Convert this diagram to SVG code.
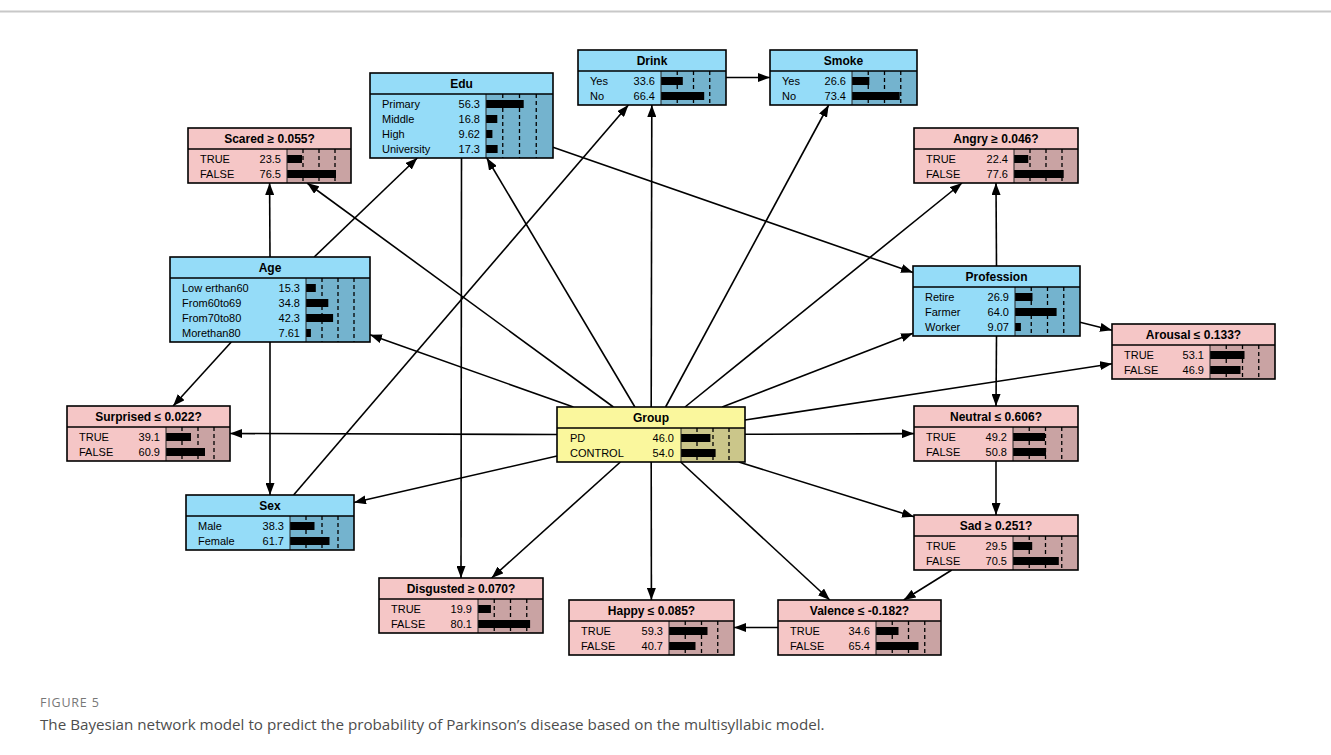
<svg xmlns="http://www.w3.org/2000/svg" width="1331" height="755" viewBox="0 0 1331 755">
  <defs>
    <marker id="arrow" markerUnits="userSpaceOnUse" markerWidth="12" markerHeight="9" refX="12" refY="4.5" orient="auto">
      <path d="M0,0 L12,4.5 L0,9 Z" fill="#000"/>
    </marker>
  </defs>
  <style>
    .lt { stroke: none; }
    .blue .lt { fill: #95dcf8; }
    .blue .dk { fill: #74b3ce; }
    .pink .lt { fill: #f5c6c6; }
    .pink .dk { fill: #c9a3a3; }
    .yellow .lt { fill: #faf79d; }
    .yellow .dk { fill: #cbc68a; }
    .frame { fill: none; stroke: #000; stroke-width: 1.6; }
    .sep { stroke: #000; stroke-width: 1.4; }
    .div { stroke: #222; stroke-width: 1; }
    .grid { stroke: #000; stroke-width: 1.3; stroke-dasharray: 4 3; }
    .bar { fill: #000; }
    .title { font-family: "Liberation Sans", Arial, sans-serif; font-size: 12px; font-weight: bold; text-anchor: middle; fill: #000; }
    .lab { font-family: "Liberation Sans", Arial, sans-serif; font-size: 11px; fill: #000; }
    .val { font-family: "Liberation Sans", Arial, sans-serif; font-size: 11px; fill: #000; text-anchor: end; }
    #connectors line { stroke: #000; stroke-width: 1.6; marker-end: url(#arrow); }
    .figlabel { font-family: "Open Sans", "Noto Sans", sans-serif; font-size: 12.5px; fill: #777; letter-spacing: 0.8px; }
    .caption { font-family: "Open Sans", "Noto Sans", sans-serif; font-size: 15.2px; fill: #4d4d4d; }
  </style>

  <rect width="1331" height="755" fill="#fff"/>
  <line x1="0" y1="11.5" x2="1331" y2="11.5" stroke="#c8c8c8" stroke-width="2"/>

  <!-- links between nodes -->
  <g id="connectors">
    <line x1="651.2" y1="407" x2="651.8" y2="105"/>
    <line x1="665.6" y1="407" x2="828.7" y2="105"/>
    <line x1="634.9" y1="407" x2="486.8" y2="158"/>
    <line x1="613.4" y1="407" x2="307.1" y2="183"/>
    <line x1="573.4" y1="407" x2="370" y2="334.8"/>
    <line x1="557" y1="434.5" x2="230" y2="433.5"/>
    <line x1="557" y1="456" x2="354" y2="502.5"/>
    <line x1="620.4" y1="462" x2="491.6" y2="578"/>
    <line x1="651.2" y1="462" x2="651.4" y2="600"/>
    <line x1="680.7" y1="462" x2="829.8" y2="600"/>
    <line x1="738.8" y1="462" x2="914" y2="516.8"/>
    <line x1="745" y1="434.3" x2="914" y2="433.6"/>
    <line x1="745" y1="420" x2="1112" y2="363.8"/>
    <line x1="722.2" y1="407" x2="913" y2="333.3"/>
    <line x1="685" y1="407" x2="962" y2="183"/>
    <line x1="726" y1="77.5" x2="770" y2="77.5"/>
    <line x1="270" y1="257" x2="269.6" y2="183"/>
    <line x1="314.2" y1="257" x2="417.3" y2="158"/>
    <line x1="231.3" y1="342" x2="173.1" y2="406"/>
    <line x1="270" y1="342" x2="270" y2="495"/>
    <line x1="293.6" y1="495" x2="628.4" y2="105"/>
    <line x1="461.5" y1="158" x2="461" y2="578"/>
    <line x1="553" y1="147.3" x2="913" y2="272.4"/>
    <line x1="996.5" y1="266" x2="996" y2="183"/>
    <line x1="1080" y1="322.2" x2="1112" y2="330.2"/>
    <line x1="996.5" y1="336" x2="996" y2="406"/>
    <line x1="996" y1="461" x2="996" y2="515"/>
    <line x1="951.8" y1="570" x2="903.7" y2="600"/>
    <line x1="778" y1="627.5" x2="734" y2="627.5"/>
  </g>

  <!-- Edu -->
  <g id="node-edu" class="blue">
    <rect class="lt" x="370" y="73" width="183" height="85"/>
    <rect class="dk" x="486" y="94" width="67" height="64"/>
    <line class="grid" x1="502.75" y1="94" x2="502.75" y2="158"/>
    <line class="grid" x1="519.5" y1="94" x2="519.5" y2="158"/>
    <line class="grid" x1="536.25" y1="94" x2="536.25" y2="158"/>
    <rect class="bar" x="486" y="100" width="37.7" height="8"/>
    <rect class="bar" x="486" y="115" width="11.3" height="8"/>
    <rect class="bar" x="486" y="130" width="6.4" height="8"/>
    <rect class="bar" x="486" y="145" width="11.6" height="8"/>
    <line class="div" x1="486" y1="94" x2="486" y2="158"/>
    <line class="sep" x1="370" y1="94" x2="553" y2="94"/>
    <rect class="frame" x="370" y="73" width="183" height="85"/>
    <text class="title" x="461.5" y="87.5">Edu</text>
    <text class="lab" x="382" y="108">Primary</text><text class="val" x="480" y="108">56.3</text>
    <text class="lab" x="382" y="123">Middle</text><text class="val" x="480" y="123">16.8</text>
    <text class="lab" x="382" y="138">High</text><text class="val" x="480" y="138">9.62</text>
    <text class="lab" x="382" y="153">University</text><text class="val" x="480" y="153">17.3</text>
  </g>

  <!-- Drink -->
  <g id="node-drink" class="blue">
    <rect class="lt" x="578" y="50" width="148" height="55"/>
    <rect class="dk" x="661" y="71" width="65" height="34"/>
    <line class="grid" x1="677.25" y1="71" x2="677.25" y2="105"/>
    <line class="grid" x1="693.5" y1="71" x2="693.5" y2="105"/>
    <line class="grid" x1="709.75" y1="71" x2="709.75" y2="105"/>
    <rect class="bar" x="661" y="77" width="21.8" height="8"/>
    <rect class="bar" x="661" y="92" width="43.2" height="8"/>
    <line class="div" x1="661" y1="71" x2="661" y2="105"/>
    <line class="sep" x1="578" y1="71" x2="726" y2="71"/>
    <rect class="frame" x="578" y="50" width="148" height="55"/>
    <text class="title" x="652" y="64.5">Drink</text>
    <text class="lab" x="590" y="85">Yes</text><text class="val" x="655" y="85">33.6</text>
    <text class="lab" x="590" y="100">No</text><text class="val" x="655" y="100">66.4</text>
  </g>

  <!-- Smoke -->
  <g id="node-smoke" class="blue">
    <rect class="lt" x="770" y="50" width="147" height="55"/>
    <rect class="dk" x="852" y="71" width="65" height="34"/>
    <line class="grid" x1="868.25" y1="71" x2="868.25" y2="105"/>
    <line class="grid" x1="884.5" y1="71" x2="884.5" y2="105"/>
    <line class="grid" x1="900.75" y1="71" x2="900.75" y2="105"/>
    <rect class="bar" x="852" y="77" width="17.3" height="8"/>
    <rect class="bar" x="852" y="92" width="47.7" height="8"/>
    <line class="div" x1="852" y1="71" x2="852" y2="105"/>
    <line class="sep" x1="770" y1="71" x2="917" y2="71"/>
    <rect class="frame" x="770" y="50" width="147" height="55"/>
    <text class="title" x="843.5" y="64.5">Smoke</text>
    <text class="lab" x="782" y="85">Yes</text><text class="val" x="846" y="85">26.6</text>
    <text class="lab" x="782" y="100">No</text><text class="val" x="846" y="100">73.4</text>
  </g>

  <!-- Scared -->
  <g id="node-scared" class="pink">
    <rect class="lt" x="188" y="128" width="163" height="55"/>
    <rect class="dk" x="287" y="149" width="64" height="34"/>
    <line class="grid" x1="303" y1="149" x2="303" y2="183"/>
    <line class="grid" x1="319" y1="149" x2="319" y2="183"/>
    <line class="grid" x1="335" y1="149" x2="335" y2="183"/>
    <rect class="bar" x="287" y="155" width="15" height="8"/>
    <rect class="bar" x="287" y="170" width="49" height="8"/>
    <line class="div" x1="287" y1="149" x2="287" y2="183"/>
    <line class="sep" x1="188" y1="149" x2="351" y2="149"/>
    <rect class="frame" x="188" y="128" width="163" height="55"/>
    <text class="title" x="269.5" y="142.5">Scared ≥ 0.055?</text>
    <text class="lab" x="200" y="163">TRUE</text><text class="val" x="281" y="163">23.5</text>
    <text class="lab" x="200" y="178">FALSE</text><text class="val" x="281" y="178">76.5</text>
  </g>

  <!-- Angry -->
  <g id="node-angry" class="pink">
    <rect class="lt" x="914" y="128" width="164" height="55"/>
    <rect class="dk" x="1014" y="149" width="64" height="34"/>
    <line class="grid" x1="1030" y1="149" x2="1030" y2="183"/>
    <line class="grid" x1="1046" y1="149" x2="1046" y2="183"/>
    <line class="grid" x1="1062" y1="149" x2="1062" y2="183"/>
    <rect class="bar" x="1014" y="155" width="14.3" height="8"/>
    <rect class="bar" x="1014" y="170" width="49.7" height="8"/>
    <line class="div" x1="1014" y1="149" x2="1014" y2="183"/>
    <line class="sep" x1="914" y1="149" x2="1078" y2="149"/>
    <rect class="frame" x="914" y="128" width="164" height="55"/>
    <text class="title" x="996" y="142.5">Angry ≥ 0.046?</text>
    <text class="lab" x="926" y="163">TRUE</text><text class="val" x="1008" y="163">22.4</text>
    <text class="lab" x="926" y="178">FALSE</text><text class="val" x="1008" y="178">77.6</text>
  </g>

  <!-- Age -->
  <g id="node-age" class="blue">
    <rect class="lt" x="170" y="257" width="200" height="85"/>
    <rect class="dk" x="306" y="278" width="64" height="64"/>
    <line class="grid" x1="322" y1="278" x2="322" y2="342"/>
    <line class="grid" x1="338" y1="278" x2="338" y2="342"/>
    <line class="grid" x1="354" y1="278" x2="354" y2="342"/>
    <rect class="bar" x="306" y="284" width="9.8" height="8"/>
    <rect class="bar" x="306" y="299" width="22.3" height="8"/>
    <rect class="bar" x="306" y="314" width="27.1" height="8"/>
    <rect class="bar" x="306" y="329" width="4.9" height="8"/>
    <line class="div" x1="306" y1="278" x2="306" y2="342"/>
    <line class="sep" x1="170" y1="278" x2="370" y2="278"/>
    <rect class="frame" x="170" y="257" width="200" height="85"/>
    <text class="title" x="270" y="271.5">Age</text>
    <text class="lab" x="182" y="292">Low erthan60</text><text class="val" x="300" y="292">15.3</text>
    <text class="lab" x="182" y="307">From60to69</text><text class="val" x="300" y="307">34.8</text>
    <text class="lab" x="182" y="322">From70to80</text><text class="val" x="300" y="322">42.3</text>
    <text class="lab" x="182" y="337">Morethan80</text><text class="val" x="300" y="337">7.61</text>
  </g>

  <!-- Profession -->
  <g id="node-profession" class="blue">
    <rect class="lt" x="913" y="266" width="167" height="70"/>
    <rect class="dk" x="1015" y="287" width="65" height="49"/>
    <line class="grid" x1="1031.25" y1="287" x2="1031.25" y2="336"/>
    <line class="grid" x1="1047.5" y1="287" x2="1047.5" y2="336"/>
    <line class="grid" x1="1063.75" y1="287" x2="1063.75" y2="336"/>
    <rect class="bar" x="1015" y="293" width="17.5" height="8"/>
    <rect class="bar" x="1015" y="308" width="41.6" height="8"/>
    <rect class="bar" x="1015" y="323" width="5.9" height="8"/>
    <line class="div" x1="1015" y1="287" x2="1015" y2="336"/>
    <line class="sep" x1="913" y1="287" x2="1080" y2="287"/>
    <rect class="frame" x="913" y="266" width="167" height="70"/>
    <text class="title" x="996.5" y="280.5">Profession</text>
    <text class="lab" x="925" y="301">Retire</text><text class="val" x="1009" y="301">26.9</text>
    <text class="lab" x="925" y="316">Farmer</text><text class="val" x="1009" y="316">64.0</text>
    <text class="lab" x="925" y="331">Worker</text><text class="val" x="1009" y="331">9.07</text>
  </g>

  <!-- Arousal -->
  <g id="node-arousal" class="pink">
    <rect class="lt" x="1112" y="324" width="163" height="55"/>
    <rect class="dk" x="1210" y="345" width="65" height="34"/>
    <line class="grid" x1="1226.25" y1="345" x2="1226.25" y2="379"/>
    <line class="grid" x1="1242.5" y1="345" x2="1242.5" y2="379"/>
    <line class="grid" x1="1258.75" y1="345" x2="1258.75" y2="379"/>
    <rect class="bar" x="1210" y="351" width="34.5" height="8"/>
    <rect class="bar" x="1210" y="366" width="30.5" height="8"/>
    <line class="div" x1="1210" y1="345" x2="1210" y2="379"/>
    <line class="sep" x1="1112" y1="345" x2="1275" y2="345"/>
    <rect class="frame" x="1112" y="324" width="163" height="55"/>
    <text class="title" x="1193.5" y="338.5">Arousal ≤ 0.133?</text>
    <text class="lab" x="1124" y="359">TRUE</text><text class="val" x="1204" y="359">53.1</text>
    <text class="lab" x="1124" y="374">FALSE</text><text class="val" x="1204" y="374">46.9</text>
  </g>

  <!-- Surprised -->
  <g id="node-surprised" class="pink">
    <rect class="lt" x="67" y="406" width="163" height="55"/>
    <rect class="dk" x="166" y="427" width="64" height="34"/>
    <line class="grid" x1="182" y1="427" x2="182" y2="461"/>
    <line class="grid" x1="198" y1="427" x2="198" y2="461"/>
    <line class="grid" x1="214" y1="427" x2="214" y2="461"/>
    <rect class="bar" x="166" y="433" width="25" height="8"/>
    <rect class="bar" x="166" y="448" width="39" height="8"/>
    <line class="div" x1="166" y1="427" x2="166" y2="461"/>
    <line class="sep" x1="67" y1="427" x2="230" y2="427"/>
    <rect class="frame" x="67" y="406" width="163" height="55"/>
    <text class="title" x="148.5" y="420.5">Surprised ≤ 0.022?</text>
    <text class="lab" x="79" y="441">TRUE</text><text class="val" x="160" y="441">39.1</text>
    <text class="lab" x="79" y="456">FALSE</text><text class="val" x="160" y="456">60.9</text>
  </g>

  <!-- Group -->
  <g id="node-group" class="yellow">
    <rect class="lt" x="557" y="407" width="188" height="55"/>
    <rect class="dk" x="681" y="428" width="64" height="34"/>
    <line class="grid" x1="697" y1="428" x2="697" y2="462"/>
    <line class="grid" x1="713" y1="428" x2="713" y2="462"/>
    <line class="grid" x1="729" y1="428" x2="729" y2="462"/>
    <rect class="bar" x="681" y="434" width="29.4" height="8"/>
    <rect class="bar" x="681" y="449" width="34.6" height="8"/>
    <line class="div" x1="681" y1="428" x2="681" y2="462"/>
    <line class="sep" x1="557" y1="428" x2="745" y2="428"/>
    <rect class="frame" x="557" y="407" width="188" height="55"/>
    <text class="title" x="651" y="421.5">Group</text>
    <text class="lab" x="570" y="442">PD</text><text class="val" x="674" y="442">46.0</text>
    <text class="lab" x="570" y="457">CONTROL</text><text class="val" x="674" y="457">54.0</text>
  </g>

  <!-- Neutral -->
  <g id="node-neutral" class="pink">
    <rect class="lt" x="914" y="406" width="164" height="55"/>
    <rect class="dk" x="1013" y="427" width="65" height="34"/>
    <line class="grid" x1="1029.25" y1="427" x2="1029.25" y2="461"/>
    <line class="grid" x1="1045.5" y1="427" x2="1045.5" y2="461"/>
    <line class="grid" x1="1061.75" y1="427" x2="1061.75" y2="461"/>
    <rect class="bar" x="1013" y="433" width="32" height="8"/>
    <rect class="bar" x="1013" y="448" width="33" height="8"/>
    <line class="div" x1="1013" y1="427" x2="1013" y2="461"/>
    <line class="sep" x1="914" y1="427" x2="1078" y2="427"/>
    <rect class="frame" x="914" y="406" width="164" height="55"/>
    <text class="title" x="996" y="420.5">Neutral ≤ 0.606?</text>
    <text class="lab" x="926" y="441">TRUE</text><text class="val" x="1007" y="441">49.2</text>
    <text class="lab" x="926" y="456">FALSE</text><text class="val" x="1007" y="456">50.8</text>
  </g>

  <!-- Sad -->
  <g id="node-sad" class="pink">
    <rect class="lt" x="914" y="515" width="164" height="55"/>
    <rect class="dk" x="1013" y="536" width="65" height="34"/>
    <line class="grid" x1="1029.25" y1="536" x2="1029.25" y2="570"/>
    <line class="grid" x1="1045.5" y1="536" x2="1045.5" y2="570"/>
    <line class="grid" x1="1061.75" y1="536" x2="1061.75" y2="570"/>
    <rect class="bar" x="1013" y="542" width="19.2" height="8"/>
    <rect class="bar" x="1013" y="557" width="45.8" height="8"/>
    <line class="div" x1="1013" y1="536" x2="1013" y2="570"/>
    <line class="sep" x1="914" y1="536" x2="1078" y2="536"/>
    <rect class="frame" x="914" y="515" width="164" height="55"/>
    <text class="title" x="996" y="529.5">Sad ≥ 0.251?</text>
    <text class="lab" x="926" y="550">TRUE</text><text class="val" x="1007" y="550">29.5</text>
    <text class="lab" x="926" y="565">FALSE</text><text class="val" x="1007" y="565">70.5</text>
  </g>

  <!-- Sex -->
  <g id="node-sex" class="blue">
    <rect class="lt" x="186" y="495" width="168" height="55"/>
    <rect class="dk" x="290" y="516" width="64" height="34"/>
    <line class="grid" x1="306" y1="516" x2="306" y2="550"/>
    <line class="grid" x1="322" y1="516" x2="322" y2="550"/>
    <line class="grid" x1="338" y1="516" x2="338" y2="550"/>
    <rect class="bar" x="290" y="522" width="24.5" height="8"/>
    <rect class="bar" x="290" y="537" width="39.5" height="8"/>
    <line class="div" x1="290" y1="516" x2="290" y2="550"/>
    <line class="sep" x1="186" y1="516" x2="354" y2="516"/>
    <rect class="frame" x="186" y="495" width="168" height="55"/>
    <text class="title" x="270" y="509.5">Sex</text>
    <text class="lab" x="198" y="530">Male</text><text class="val" x="284" y="530">38.3</text>
    <text class="lab" x="198" y="545">Female</text><text class="val" x="284" y="545">61.7</text>
  </g>

  <!-- Disgusted -->
  <g id="node-disgusted" class="pink">
    <rect class="lt" x="379" y="578" width="164" height="55"/>
    <rect class="dk" x="478" y="599" width="65" height="34"/>
    <line class="grid" x1="494.25" y1="599" x2="494.25" y2="633"/>
    <line class="grid" x1="510.5" y1="599" x2="510.5" y2="633"/>
    <line class="grid" x1="526.75" y1="599" x2="526.75" y2="633"/>
    <rect class="bar" x="478" y="605" width="12.9" height="8"/>
    <rect class="bar" x="478" y="620" width="52.1" height="8"/>
    <line class="div" x1="478" y1="599" x2="478" y2="633"/>
    <line class="sep" x1="379" y1="599" x2="543" y2="599"/>
    <rect class="frame" x="379" y="578" width="164" height="55"/>
    <text class="title" x="461" y="592.5">Disgusted ≥ 0.070?</text>
    <text class="lab" x="391" y="613">TRUE</text><text class="val" x="472" y="613">19.9</text>
    <text class="lab" x="391" y="628">FALSE</text><text class="val" x="472" y="628">80.1</text>
  </g>

  <!-- Happy -->
  <g id="node-happy" class="pink">
    <rect class="lt" x="569" y="600" width="165" height="55"/>
    <rect class="dk" x="669" y="621" width="65" height="34"/>
    <line class="grid" x1="685.25" y1="621" x2="685.25" y2="655"/>
    <line class="grid" x1="701.5" y1="621" x2="701.5" y2="655"/>
    <line class="grid" x1="717.75" y1="621" x2="717.75" y2="655"/>
    <rect class="bar" x="669" y="627" width="38.5" height="8"/>
    <rect class="bar" x="669" y="642" width="26.5" height="8"/>
    <line class="div" x1="669" y1="621" x2="669" y2="655"/>
    <line class="sep" x1="569" y1="621" x2="734" y2="621"/>
    <rect class="frame" x="569" y="600" width="165" height="55"/>
    <text class="title" x="651.5" y="614.5">Happy ≤ 0.085?</text>
    <text class="lab" x="581" y="635">TRUE</text><text class="val" x="663" y="635">59.3</text>
    <text class="lab" x="581" y="650">FALSE</text><text class="val" x="663" y="650">40.7</text>
  </g>

  <!-- Valence -->
  <g id="node-valence" class="pink">
    <rect class="lt" x="778" y="600" width="163" height="55"/>
    <rect class="dk" x="876" y="621" width="65" height="34"/>
    <line class="grid" x1="892.25" y1="621" x2="892.25" y2="655"/>
    <line class="grid" x1="908.5" y1="621" x2="908.5" y2="655"/>
    <line class="grid" x1="924.75" y1="621" x2="924.75" y2="655"/>
    <rect class="bar" x="876" y="627" width="22.5" height="8"/>
    <rect class="bar" x="876" y="642" width="42.5" height="8"/>
    <line class="div" x1="876" y1="621" x2="876" y2="655"/>
    <line class="sep" x1="778" y1="621" x2="941" y2="621"/>
    <rect class="frame" x="778" y="600" width="163" height="55"/>
    <text class="title" x="859.5" y="614.5">Valence ≤ -0.182?</text>
    <text class="lab" x="790" y="635">TRUE</text><text class="val" x="870" y="635">34.6</text>
    <text class="lab" x="790" y="650">FALSE</text><text class="val" x="870" y="650">65.4</text>
  </g>

  <!-- caption -->
  <text class="figlabel" x="40" y="707">FIGURE 5</text>
  <text class="caption" x="40" y="730">The Bayesian network model to predict the probability of Parkinson’s disease based on the multisyllabic model.</text>
</svg>
